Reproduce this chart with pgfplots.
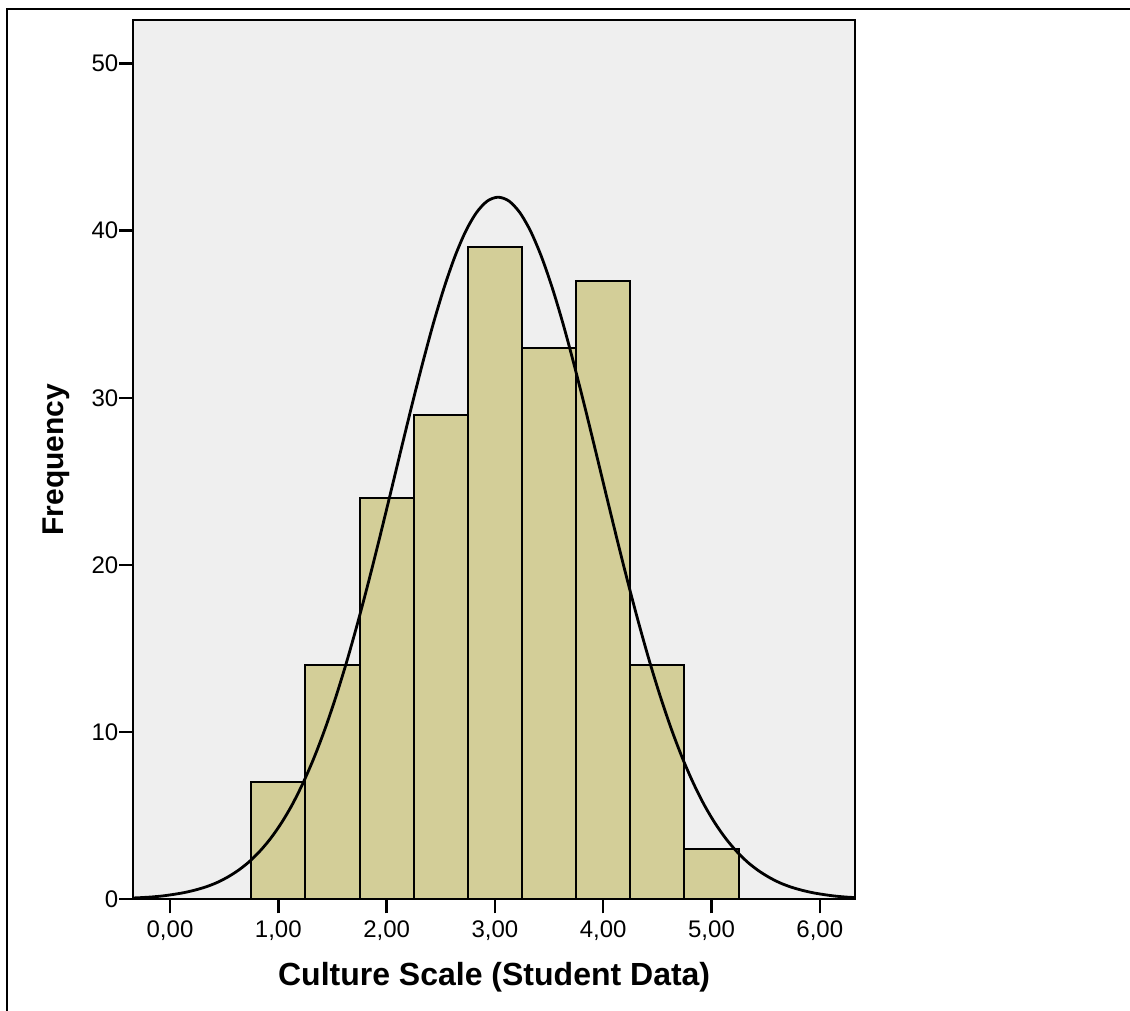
\documentclass[border=0pt]{standalone}
\usepackage{fontspec}
\setmainfont{Liberation Sans}
\usepackage{pgfplots}
\pgfplotsset{compat=1.18}
\definecolor{plotbg}{HTML}{EFEFEF}
\definecolor{barfill}{HTML}{D3CE98}
\begin{document}
\begin{tikzpicture}
% picture frame: 1 px of the reference = 0.5pt
\useasboundingbox (-66.65pt,-55.85pt) rectangle (498.35pt,449.65pt);
\draw[line width=1pt] (-63.15pt,-70pt) -- (-63.15pt,445.15pt) -- (510pt,445.15pt);
\begin{axis}[
    at={(0pt,0pt)}, anchor=south west,
    scale only axis,
    width=360.85pt, height=439.65pt,
    xmin=-0.339, xmax=6.325,
    ymin=0, ymax=52.6,
    axis background/.style={fill=plotbg},
    axis line style={line width=1.2pt},
    tick style={line width=1.2pt, black},
    tick align=outside,
    major tick length=7pt,
    xtick={0,1,2,3,4,5,6},
    xticklabels={{0,00},{1,00},{2,00},{3,00},{4,00},{5,00},{6,00}},
    ytick={0,10,20,30,40,50},
    xtick pos=bottom, ytick pos=left,
    ticklabel style={font=\fontsize{12}{14}\selectfont},
    yticklabel style={xshift=3pt},
    /pgf/number format/assume math mode=true,
    xlabel={Culture Scale (Student Data)},
    ylabel={Frequency},
    xlabel style={font=\bfseries\fontsize{16}{18}\selectfont,
                  at={(axis description cs:0.5,-0.0975)}, anchor=base},
    ylabel style={font=\bfseries\fontsize{15}{18}\selectfont,
                  at={(axis description cs:-0.097,0.5)}, anchor=base},
]
\addplot[ybar interval, fill=barfill, draw=black, line width=1pt]
    coordinates {(0.75,7) (1.25,14) (1.75,24) (2.25,29) (2.75,39)
                 (3.25,33) (3.75,37) (4.25,14) (4.75,3) (5.25,3)};
\addplot[smooth, black, line width=1.4pt, mark=none] coordinates {
(-0.37,0.07) (-0.27,0.10) (-0.17,0.14) (-0.07,0.20) (0.03,0.29)
(0.13,0.40) (0.23,0.55) (0.33,0.74) (0.43,0.99) (0.53,1.32)
(0.63,1.73) (0.73,2.24) (0.83,2.88) (0.93,3.65) (1.03,4.58)
(1.13,5.68) (1.23,6.98) (1.33,8.47) (1.43,10.17) (1.53,12.08)
(1.63,14.18) (1.73,16.47) (1.83,18.91) (1.93,21.48) (2.03,24.13)
(2.13,26.81) (2.23,29.46) (2.33,32.01) (2.43,34.41) (2.53,36.57)
(2.63,38.44) (2.73,39.96) (2.83,41.08) (2.93,41.77) (3.03,42.00)
(3.13,41.77) (3.23,41.08) (3.33,39.96) (3.43,38.44) (3.53,36.57)
(3.63,34.41) (3.73,32.01) (3.83,29.46) (3.93,26.81) (4.03,24.13)
(4.13,21.48) (4.23,18.91) (4.33,16.47) (4.43,14.18) (4.53,12.08)
(4.63,10.17) (4.73,8.47) (4.83,6.98) (4.93,5.68) (5.03,4.58)
(5.13,3.65) (5.23,2.88) (5.33,2.24) (5.43,1.73) (5.53,1.32)
(5.63,0.99) (5.73,0.74) (5.83,0.55) (5.93,0.40) (6.03,0.29)
(6.13,0.20) (6.23,0.14) (6.33,0.10) (6.43,0.07)};
\end{axis}
\end{tikzpicture}
\end{document}
